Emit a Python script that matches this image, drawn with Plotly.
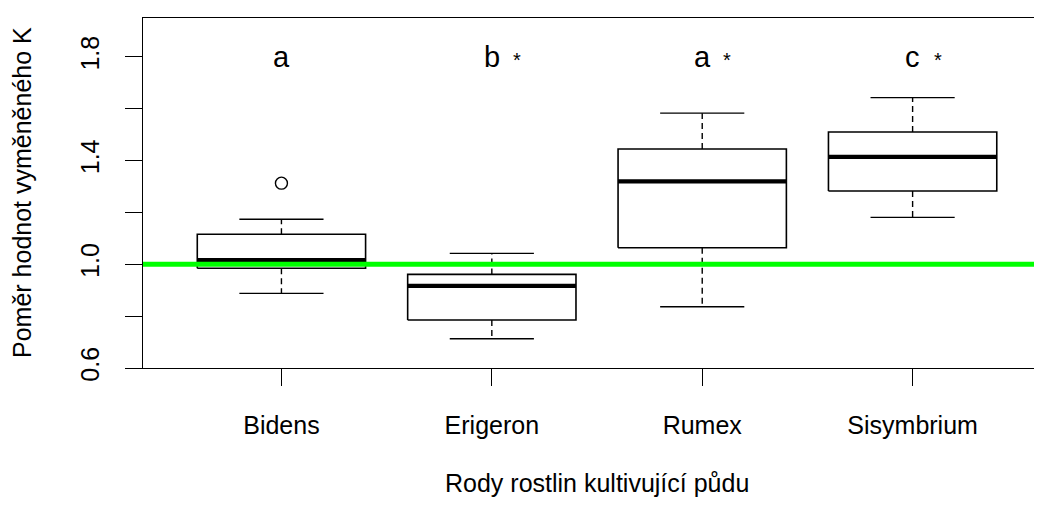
import plotly.graph_objects as go

groups = ["Bidens", "Erigeron", "Rumex", "Sisymbrium"]
lower_whisker = [0.888, 0.713, 0.836, 1.181]
q1 = [0.985, 0.785, 1.064, 1.283]
median = [1.016, 0.917, 1.320, 1.414]
q3 = [1.116, 0.961, 1.445, 1.510]
upper_whisker = [1.174, 1.042, 1.583, 1.643]
outlier_group = ["Bidens"]
outlier_value = [1.313]
letters = ["a", "b", "a", "c"]
stars = ["", "*", "*", "*"]
ref_value = 1.0
y_tickvals = [0.6, 0.8, 1.0, 1.2, 1.4, 1.6, 1.8]
y_ticktext = ["0.6", "", "1.0", "", "1.4", "", "1.8"]

BOXW = 0.4
CAPW = 0.2
pos = {g: i + 1 for i, g in enumerate(groups)}

box_x, box_y = [], []
med_x, med_y = [], []
wh_x, wh_y = [], []
cap_x, cap_y = [], []
for i, g in enumerate(groups):
    c = pos[g]
    box_x += [c - BOXW, c + BOXW, c + BOXW, c - BOXW, c - BOXW, None]
    box_y += [q1[i], q1[i], q3[i], q3[i], q1[i], None]
    med_x += [c - BOXW, c + BOXW, None]
    med_y += [median[i], median[i], None]
    wh_x += [c, c, None, c, c, None]
    wh_y += [q3[i], upper_whisker[i], None, q1[i], lower_whisker[i], None]
    cap_x += [c - CAPW, c + CAPW, None, c - CAPW, c + CAPW, None]
    cap_y += [upper_whisker[i], upper_whisker[i], None, lower_whisker[i], lower_whisker[i], None]

fig = go.Figure()
fig.add_trace(go.Scatter(x=wh_x, y=wh_y, mode="lines",
                         line=dict(color="black", width=1.4, dash="6px,4px"), hoverinfo="skip"))
fig.add_trace(go.Scatter(x=cap_x, y=cap_y, mode="lines",
                         line=dict(color="black", width=1.4), hoverinfo="skip"))
fig.add_trace(go.Scatter(x=box_x, y=box_y, mode="lines",
                         line=dict(color="black", width=1.6), hoverinfo="skip"))
fig.add_trace(go.Scatter(x=med_x, y=med_y, mode="lines",
                         line=dict(color="black", width=4.2), hoverinfo="skip"))
fig.add_trace(go.Scatter(x=[pos[g] for g in outlier_group], y=outlier_value, mode="markers",
                         marker=dict(symbol="circle-open", size=12, color="black",
                                     line=dict(width=1.4, color="black")), hoverinfo="skip"))
fig.add_trace(go.Scatter(x=[0.0, 5.0], y=[ref_value, ref_value], mode="lines",
                         line=dict(color="#00FF00", width=5), hoverinfo="skip"))

for i, g in enumerate(groups):
    fig.add_annotation(x=pos[g], y=1.8, text=letters[i], showarrow=False,
                       xanchor="center", yanchor="middle",
                       font=dict(family="Liberation Sans Narrow, Liberation Sans, Arial", size=29, color="black"))
    if stars[i]:
        fig.add_annotation(x=pos[g] + 0.12, y=1.8, text=stars[i], showarrow=False,
                           xanchor="center", yanchor="middle", yshift=-3,
                           font=dict(family="Liberation Sans, Arial", size=20, color="black"))

fig.add_annotation(xref="paper", yref="paper", x=0, y=0.5, xshift=-121,
                   text="Poměr hodnot vyměněného K", textangle=-90, showarrow=False,
                   xanchor="center", yanchor="middle",
                   font=dict(family="Liberation Sans, Arial", size=25, color="black"))
fig.add_annotation(xref="paper", yref="paper", x=(281.7 + 210.3 * 1.5 - 143) / (1042 - 143), y=0, yshift=-115,
                   text="Rody rostlin kultivující půdu", showarrow=False,
                   xanchor="center", yanchor="middle",
                   font=dict(family="Liberation Sans, Arial", size=25, color="black"))

fig.update_layout(
    width=1034, height=505,
    margin=dict(l=135, r=0, t=10, b=145, pad=0),
    paper_bgcolor="white", plot_bgcolor="white",
    showlegend=False,
    font=dict(family="Liberation Sans, Arial", size=25, color="black"),
)
fig.update_xaxes(range=[0.342, 4.615], tickvals=[pos[g] for g in groups], ticktext=groups,
                 showgrid=False, zeroline=False, showline=True, mirror=True,
                 linecolor="black", linewidth=1.4, ticks="outside", ticklen=17,
                 tickwidth=1.4, tickcolor="black", ticklabelstandoff=18)
fig.update_yaxes(range=[0.6, 1.95], tickvals=y_tickvals, ticktext=y_ticktext,
                 showgrid=False, zeroline=False, showline=True, mirror=False,
                 linecolor="black", linewidth=1.4, ticks="outside", ticklen=17,
                 tickwidth=1.4, tickcolor="black", tickangle=-90, ticklabelstandoff=16)

fig.write_html("out.html")
